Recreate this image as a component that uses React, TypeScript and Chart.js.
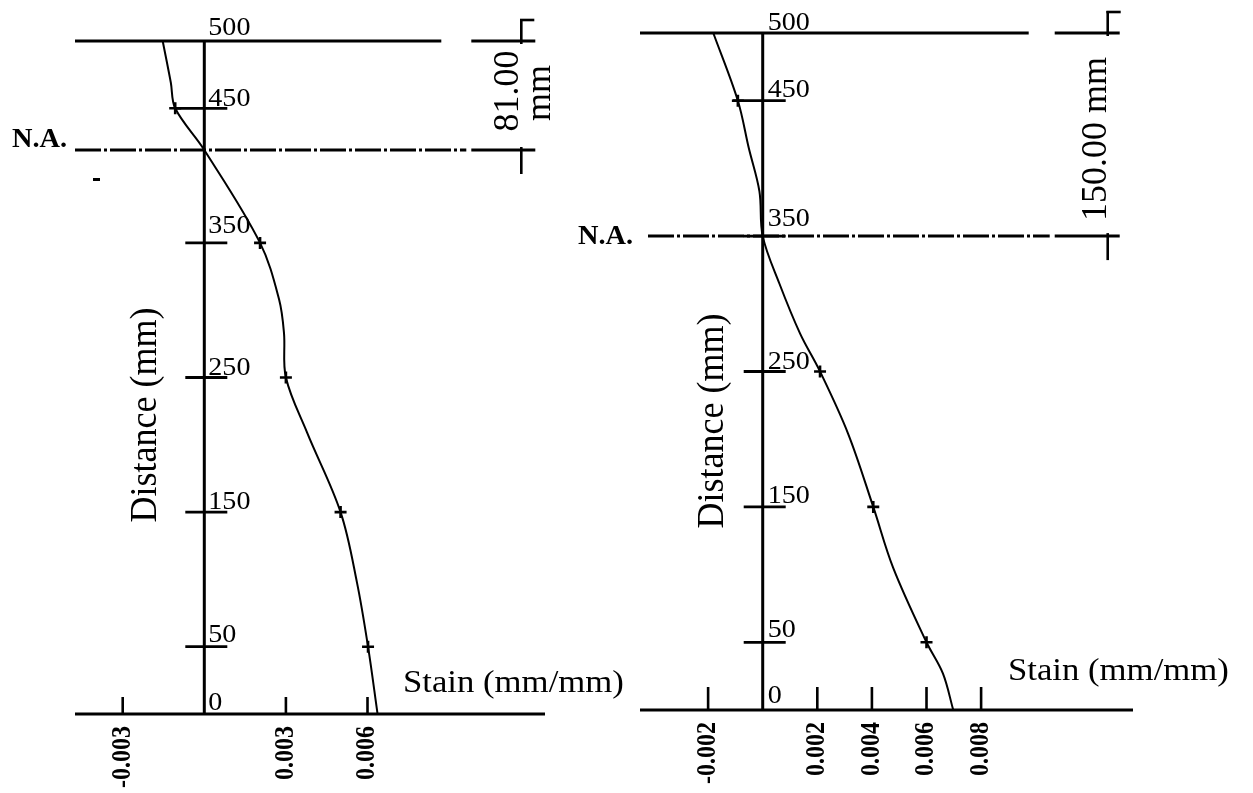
import React, { useEffect, useRef } from 'react';
import { Chart, registerables } from 'chart.js';

Chart.register(...registerables);

// ---------- data ----------
const Y_TICK_LABELS = [500, 450, 350, 250, 150, 50, 0];
const Y_TICK_MARKS = [450, 350, 250, 150, 50];
const DEPTH_MAX = 500;

const leftDepth = [500, 469, 450, 419, 350, 308, 283, 250, 209, 150, 98, 50, 0];
const leftStrain = [-0.00153, -0.00123, -0.00107, 0, 0.00205, 0.00275, 0.00293, 0.003, 0.00378, 0.00501, 0.00561, 0.00602, 0.00637];
const leftMarked = [450, 350, 250, 150, 50];
const leftXTicks = [-0.003, 0.003, 0.006];
const leftXTickLabels = ['-0.003', '0.003', '0.006'];
const leftNA = 419;
const leftDimLines = ['81.00', 'mm'];

const rightDepth = [500, 450, 415, 383, 350, 315, 278, 250, 204, 150, 105, 50, 27, 0];
const rightStrain = [-0.00181, -0.00091, -0.00051, -0.00012, 0, 0.00061, 0.00137, 0.0021, 0.00313, 0.00405, 0.00478, 0.006, 0.0066, 0.00698];
const rightMarked = [450, 250, 150, 50];
const rightXTicks = [-0.002, 0.002, 0.004, 0.006, 0.008];
const rightXTickLabels = ['-0.002', '0.002', '0.004', '0.006', '0.008'];
const rightNA = 350;
const rightDimLines = ['150.00 mm'];

const X_TITLE = 'Stain (mm/mm)';
const Y_TITLE = 'Distance (mm)';
const NA_LABEL = 'N.A.';

// ---------- layout ----------
const SERIF = '"Liberation Serif", "Times New Roman", serif';

const leftLayout = {
  pageLeft: 0,
  width: 640,
  pad: { left: 75, right: 95, top: 41, bottom: 79 },
  xMin: -0.004754,
  xMax: 0.012526,
  topEnd: 237,
  stubStart: 267,
  stubEnd: 331,
  bracketX: 317,
  naStart: 0,
  xTickLen: 17,
  yLabelDx: 4,
  labelOff: { 500: 6, 450: 2, 350: 10, 250: 3, 150: 3, 50: 5, 0: 4 } as Record<number, number>,
  distPos: [146, 415],
  stainPos: [403, 684],
  naPos: [12, -3],
  dimPos: [[518, 91], [550, 93]],
  stray: true,
};

const rightLayout = {
  pageLeft: 560,
  width: 693,
  pad: { left: 80, right: 120, top: 33, bottom: 83 },
  xMin: -0.004495,
  xMax: 0.013564,
  topEnd: 266,
  stubStart: 292,
  stubEnd: 357,
  bracketX: 345,
  naStart: 8,
  xTickLen: 23,
  yLabelDx: 5,
  labelOff: { 500: 3, 450: 4, 350: 10, 250: 3, 150: 4, 50: 5, 0: 7 } as Record<number, number>,
  distPos: [713, 421],
  stainPos: [1008, 672],
  naPos: [578, 8],
  dimPos: [[1106, 139]],
  stray: false,
};

type Layout = typeof leftLayout;

function txt(
  ctx: CanvasRenderingContext2D,
  s: string,
  x: number,
  y: number,
  o: { font: string; sx?: number; sy?: number; rot?: number; align?: CanvasTextAlign; base?: CanvasTextBaseline }
) {
  ctx.save();
  ctx.translate(x, y);
  ctx.scale(o.sx ?? 1, o.sy ?? 1);
  if (o.rot) ctx.rotate(o.rot);
  ctx.font = o.font;
  ctx.textAlign = o.align ?? 'left';
  ctx.textBaseline = o.base ?? 'alphabetic';
  ctx.fillStyle = '#000';
  ctx.fillText(s, 0, 0);
  ctx.restore();
}

function line(ctx: CanvasRenderingContext2D, x1: number, y1: number, x2: number, y2: number, w = 3) {
  ctx.beginPath();
  ctx.lineWidth = w;
  ctx.moveTo(x1, y1);
  ctx.lineTo(x2, y2);
  ctx.stroke();
}

interface PanelProps {
  layout: Layout;
  depth: number[];
  strain: number[];
  marked: number[];
  xTicks: number[];
  xTickLabels: string[];
  na: number;
  dimLines: string[];
}

function Panel({ layout, depth, strain, marked, xTicks, xTickLabels, na, dimLines }: PanelProps) {
  const ref = useRef<HTMLCanvasElement | null>(null);

  useEffect(() => {
    if (!ref.current) return;
    const L = layout;
    const decor = {
      id: 'decor',
      beforeDatasetsDraw(chart: any) {
        const ctx: CanvasRenderingContext2D = chart.ctx;
        const xs = chart.scales.x;
        const ys = chart.scales.y;
        const X = (v: number) => xs.getPixelForValue(v);
        const Y = (v: number) => ys.getPixelForValue(v);
        const P = (px: number) => px - L.pageLeft;
        const { left, right } = chart.chartArea;
        const x0 = X(0);
        const yBot = Y(0);
        const yTop = Y(DEPTH_MAX);
        const yNA = Y(na);
        ctx.save();
        ctx.strokeStyle = '#000';
        ctx.fillStyle = '#000';
        ctx.lineCap = 'butt';

        // axes
        line(ctx, left, yBot, right, yBot, 3.2);
        line(ctx, x0, yTop, x0, yBot, 3);
        // top of section
        line(ctx, left, yTop, x0 + L.topEnd, yTop, 3.2);
        // dimension stub + bracket
        line(ctx, x0 + L.stubStart, yTop, x0 + L.stubEnd, yTop, 3);
        const bx = x0 + L.bracketX;
        line(ctx, bx, yTop - 22, bx, yTop + 3, 2.6);
        line(ctx, bx - 1.3, yTop - 21, bx + 13, yTop - 21, 2.6);
        // neutral axis dash-dot
        ctx.save();
        ctx.setLineDash([26, 3, 3, 3]);
        line(ctx, left + L.naStart, yNA, x0 + L.stubStart - 5, yNA, 3);
        ctx.restore();
        line(ctx, x0 + L.stubStart, yNA, x0 + L.stubEnd, yNA, 3);
        line(ctx, bx, yNA - 3, bx, yNA + 24, 2.6);

        // y tick marks
        Y_TICK_MARKS.forEach((v) => {
          const ext = v === 450 ? 30 : 19;
          line(ctx, x0 - ext, Y(v), x0 + 23, Y(v), 2.8);
        });
        // x tick marks
        xTicks.forEach((v) => {
          line(ctx, X(v), yBot - L.xTickLen, X(v), yBot, 2.6);
        });

        // y tick labels
        Y_TICK_LABELS.forEach((v) => {
          txt(ctx, String(v), x0 + L.yLabelDx, Y(v) - (L.labelOff[v] ?? 3), {
            font: `26px ${SERIF}`,
            sx: 1.08,
          });
        });
        // x tick labels (rotated)
        xTicks.forEach((v, i) => {
          txt(ctx, xTickLabels[i], X(v), yBot + 12, {
            font: `bold 24px ${SERIF}`,
            sx: 1.1,
            rot: -Math.PI / 2,
            align: 'right',
            base: 'middle',
          });
        });

        // titles
        txt(ctx, Y_TITLE, P(L.distPos[0]), L.distPos[1], {
          font: `36px ${SERIF}`,
          sx: 1.05,
          rot: -Math.PI / 2,
          align: 'center',
          base: 'middle',
        });
        txt(ctx, X_TITLE, P(L.stainPos[0]), L.stainPos[1], {
          font: `31px ${SERIF}`,
          sx: 1.12,
          base: 'middle',
        });
        txt(ctx, NA_LABEL, P(L.naPos[0]), yNA + L.naPos[1], {
          font: `bold 27px ${SERIF}`,
          sx: 1.05,
        });
        // dimension text
        dimLines.forEach((s, i) => {
          txt(ctx, s, P(L.dimPos[i][0]), L.dimPos[i][1], {
            font: `36px ${SERIF}`,
            rot: -Math.PI / 2,
            align: 'center',
            base: 'alphabetic',
          });
        });
        if (L.stray) {
          ctx.fillRect(P(93), 178, 7, 3);
        }
        ctx.restore();
      },
    };

    const chart = new Chart(ref.current, {
      type: 'line',
      data: {
        datasets: [
          {
            data: depth.map((d, i) => ({ x: strain[i], y: d })),
            borderColor: '#000',
            borderWidth: 2,
            pointStyle: 'cross',
            pointRadius: depth.map((d) => (marked.includes(d) ? 6 : 0)),
            pointBorderWidth: 2.6,
            pointBorderColor: '#000',
            pointBackgroundColor: '#000',
            tension: 0.35,
            fill: false,
            clip: false,
          } as any,
        ],
      },
      options: {
        indexAxis: 'y',
        animation: false,
        responsive: false,
        events: [],
        layout: { padding: L.pad },
        plugins: { legend: { display: false }, tooltip: { enabled: false } },
        scales: {
          x: { type: 'linear', display: false, min: L.xMin, max: L.xMax },
          y: { type: 'linear', display: false, min: 0, max: DEPTH_MAX },
        },
      } as any,
      plugins: [decor],
    });
    return () => chart.destroy();
  }, []);

  return (
    <canvas
      ref={ref}
      width={layout.width}
      height={793}
      style={{ position: 'absolute', left: layout.pageLeft, top: 0, width: layout.width, height: 793 }}
    />
  );
}

export default function App() {
  return (
    <div style={{ position: 'absolute', left: 0, top: 0, width: 1253, height: 793, background: '#fff', overflow: 'hidden' }}>
      <Panel
        layout={leftLayout}
        depth={leftDepth}
        strain={leftStrain}
        marked={leftMarked}
        xTicks={leftXTicks}
        xTickLabels={leftXTickLabels}
        na={leftNA}
        dimLines={leftDimLines}
      />
      <Panel
        layout={rightLayout}
        depth={rightDepth}
        strain={rightStrain}
        marked={rightMarked}
        xTicks={rightXTicks}
        xTickLabels={rightXTickLabels}
        na={rightNA}
        dimLines={rightDimLines}
      />
    </div>
  );
}
